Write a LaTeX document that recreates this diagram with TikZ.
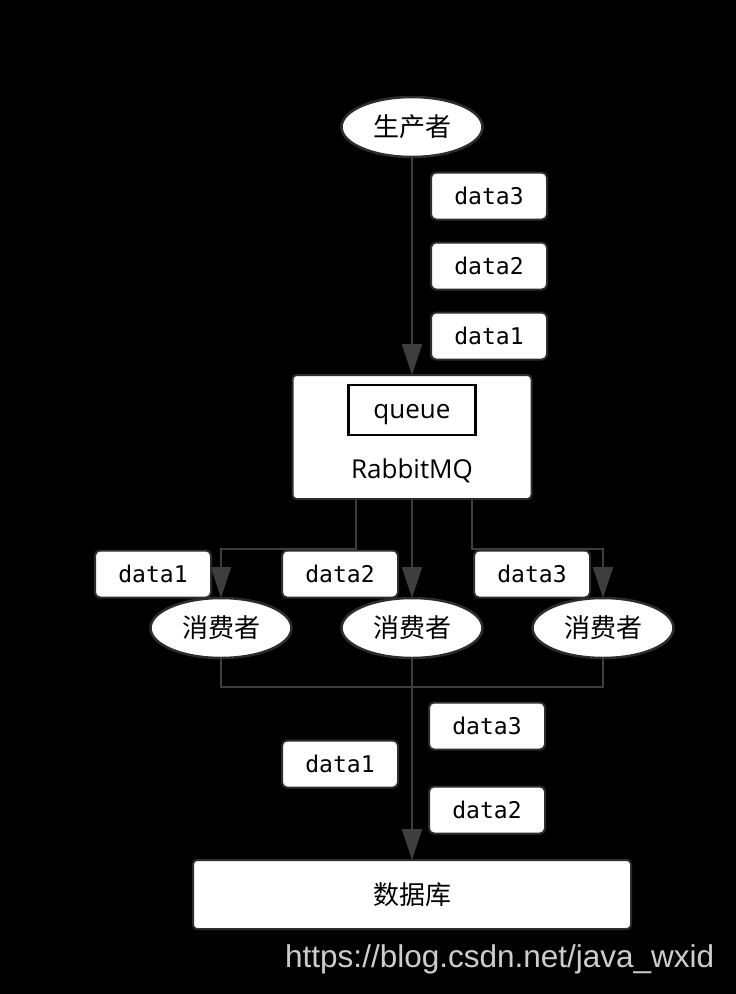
\documentclass[tikz,border=0pt]{standalone}
\usepackage{fontspec}
\newfontfamily\cjkfont{Noto Sans CJK SC}
\newfontfamily\datafont{DejaVu Sans Mono}
\newfontfamily\boxfont{Open Sans}
\newfontfamily\markfont{Liberation Sans}
\usetikzlibrary{arrows.meta,shapes.geometric,positioning}
\definecolor{linegray}{RGB}{62,62,62}
\definecolor{edgegray}{RGB}{45,45,45}
\definecolor{markgray}{RGB}{205,205,205}
\tikzset{
    role/.style={ellipse,draw=edgegray,line width=2.5pt,fill=white,inner sep=0pt,outer sep=0pt,
        minimum width=141pt,minimum height=60pt,node font=\cjkfont\fontsize{26}{26}\selectfont},
    msg/.style={rectangle,rounded corners=5pt,draw=edgegray,line width=2pt,fill=white,outer sep=0pt,
        minimum width=116pt,minimum height=47pt,inner sep=0pt,node font=\datafont\fontsize{23}{23}\selectfont},
    broker/.style={rectangle,rounded corners=4pt,draw=edgegray,line width=2pt,fill=white,outer sep=0pt,
        minimum width=239pt,minimum height=124pt,inner sep=0pt},
    qbox/.style={rectangle,draw=black,line width=2.5pt,fill=white,outer sep=0pt,
        minimum width=127pt,minimum height=50pt,inner sep=0pt,text height=18pt,text depth=2pt,
        node font=\boxfont\fontsize{26}{26}\selectfont},
    store/.style={rectangle,rounded corners=4pt,draw=edgegray,line width=2pt,fill=white,outer sep=0pt,
        minimum width=438pt,minimum height=69pt,inner sep=0pt,node font=\cjkfont\fontsize{26}{26}\selectfont},
    flow/.style={draw=linegray,line width=2pt},
    flecha/.style={flow,-{Triangle[width=20pt,length=31pt]}},
}
\begin{document}
\begin{tikzpicture}[x=1pt,y=1pt]
    \useasboundingbox[fill=black] (0,0) rectangle (736,-994);

    \node [role] at (412,-127)       (prod) {生产者};
    \node [below=218pt of prod,broker] (mq) {};
    \node [below=10pt of mq.north,anchor=north,qbox] (queue) {queue};
    \node [node font=\boxfont\fontsize{26}{26}\selectfont] at ([yshift=28pt]mq.south) (mqname) {RabbitMQ};
    \path [flecha] (prod) -- (mq);
    \node [msg] at (489,-196) (in3) {data3};
    \node [msg] at (489,-266) (in2) {data2};
    \node [msg] at (489,-336) (in1) {data1};

    \node [below=99pt of mq,role]    (cons2) {消费者};
    \node [left=50pt of cons2,role]  (cons1) {消费者};
    \node [right=50pt of cons2,role] (cons3) {消费者};
    \path [flecha] ([xshift=-56pt]mq.south) -- ++(0,-50pt) -| (cons1.north);
    \path [flecha] (mq.south) -- (cons2.north);
    \path [flecha] ([xshift=60pt]mq.south) -- ++(0,-50pt) -| (cons3.north);
    \node [msg] at (153,-574) (out1) {data1};
    \node [msg] at (340,-574) (out2) {data2};
    \node [msg] at (532,-574) (out3) {data3};

    \node [below=202pt of cons2,store] (db) {数据库};
    \path [flow] (cons1.south) -- ++(0,-29pt) -| (cons3.south);
    \path [flecha] (cons2.south) -- (db.north);
    \node [msg] at (487,-726) (save3) {data3};
    \node [msg] at (340,-764) (save1) {data1};
    \node [msg] at (487,-810) (save2) {data2};

    \node [anchor=base west,inner sep=0pt,text=markgray,
        node font=\markfont\fontsize{31.5}{31.5}\selectfont] at (285,-967) (mark) {https://blog.csdn.net/java\_wxid};
\end{tikzpicture}
\end{document}
